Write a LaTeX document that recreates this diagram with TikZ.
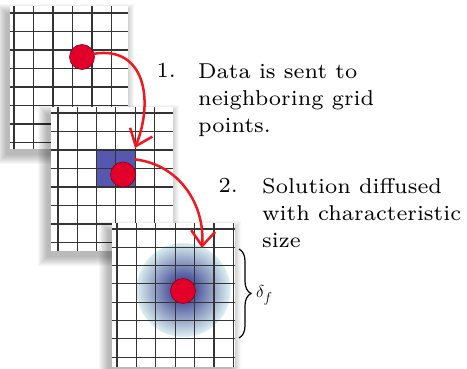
\documentclass[tikz,border=0pt]{standalone}
\usepackage{fontspec}
\newfontfamily\notefont{lmroman7-regular.otf}
\usepackage{xcolor}
\usepackage{tikz}
\usetikzlibrary{arrows.meta}
\usetikzlibrary{decorations.pathreplacing}
\definecolor{dotred}{RGB}{226,0,42}
\definecolor{dotrim}{RGB}{140,0,24}
\definecolor{arrowred}{RGB}{242,22,30}
\definecolor{cellblue}{RGB}{86,88,176}
\definecolor{gridline}{RGB}{52,52,52}
\definecolor{diffin}{RGB}{78,88,156}
\definecolor{diffout}{RGB}{218,237,240}
\tikzset{
  gridln/.style={draw=gridline, line width=1.1pt},
  dot/.style={circle, fill=dotred, draw=dotrim, line width=0.6pt, minimum size=25pt, inner sep=0pt},
  nbrcells/.style={rectangle, fill=cellblue, inner sep=0pt},
  sendarrow/.style={draw=arrowred, line width=2.5pt, line cap=round, -{Straight Barb[length=15pt, width=24pt]}},
  itemnum/.style={font=\notefont\fontsize{21.5}{27}\selectfont, anchor=base east, inner sep=0pt},
  itemtext/.style={font=\notefont\fontsize{21.5}{27}\selectfont, align=left, anchor=north west, inner sep=0pt},
}

\begin{document}
\begin{tikzpicture}[x=1pt, y=-1pt]
\useasboundingbox (0,0) rectangle (467,369);
% first grid
\foreach \i in {1,...,10} \fill[black, opacity=0.03] ({10-\i-3},{6-\i+8}) rectangle ({128+\i-4},{149+\i+5});
\fill[white] (10,6) rectangle (128,149);
\foreach \gx in {14,33.5,...,112} \draw[gridln] (\gx,6) -- (\gx,149);
\foreach \gy in {13,31.5,...,143} \draw[gridln] (10,\gy) -- (128,\gy);
\node[dot] (src) at (82,57) {};
% second grid
\foreach \i in {1,...,10} \fill[black, opacity=0.03] ({51-\i-3},{107-\i+8}) rectangle ({173+\i-4},{251+\i+5});
\fill[white] (51,107) rectangle (173,251);
\node[nbrcells, minimum width=38.6pt, minimum height=37pt] (nbr) at (115.9,168.5) {};
\foreach \gx in {58,77.3,...,155} \draw[gridln] (\gx,107) -- (\gx,251);
\foreach \gy in {113,131.5,...,243} \draw[gridln] (51,\gy) -- (173,\gy);
\node[dot] (mid) at (123,174.5) {};
% third grid
\foreach \i in {1,...,10} \fill[black, opacity=0.03] ({112-\i-3},{223-\i+8}) rectangle ({235+\i-4},{367+\i+5});
\fill[white] (112,223) rectangle (235,367);
\foreach \r in {47,46,...,1} {
  \pgfmathsetmacro\pct{min(100,100*(47-\r)/34)}
  \fill[diffin!\pct!diffout] (183.5,290) circle [radius=\r pt];
}
\foreach \gx in {117,136.4,...,234} \draw[gridln] (\gx,223) -- (\gx,367);
\foreach \gy in {229,247.3,...,358} \draw[gridln] (112,\gy) -- (235,\gy);
\node[dot] (dst) at (183,291) {};
% arrows
\coordinate (hit1) at (135,148);
\coordinate (hit2) at (202,248);
\draw[sendarrow] (src.15) .. controls (145,46) and (154,100) .. (hit1);
\draw[sendarrow] (nbr.25) .. controls (180,165) and (205,205) .. (hit2);
% width of the diffused spot
\coordinate (bracetop) at (239,249);
\coordinate (bracebot) at (239,338);
\draw[line width=1.2pt, decorate, decoration={brace, amplitude=12pt}] (bracetop) -- (bracebot);
\node[anchor=base west, inner sep=0pt, font=\fontsize{19}{22}\selectfont] (deltaf) at (256,298) {$\delta_f$};
% labels
\node[itemnum] (num1) at (176,78) {1.};
\node[itemtext] (step1) at (198,63.3) {Data is sent to\\neighboring grid\\points.};
\node[itemnum] (num2) at (238,193) {2.};
\node[itemtext] (step2) at (262,178.2) {Solution diffused\\with characteristic\\size};
\end{tikzpicture}
\end{document}
